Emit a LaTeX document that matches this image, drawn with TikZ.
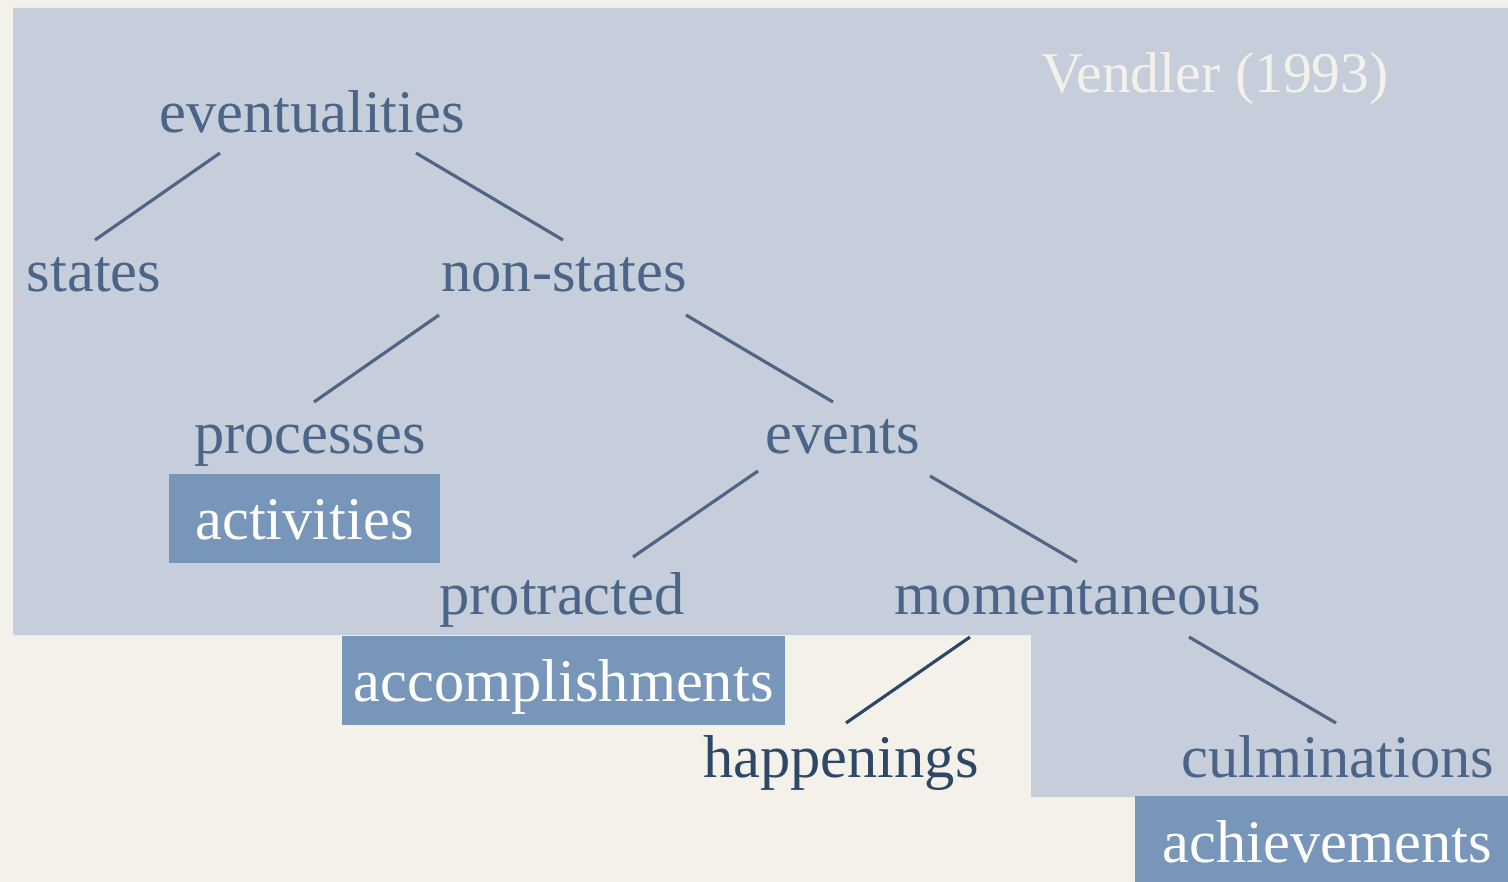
\documentclass[tikz,border=0pt]{standalone}
\usepackage{fontspec}
\setmainfont{Liberation Serif}
\usetikzlibrary{calc}

\definecolor{cream}{HTML}{F4F1EB}
\definecolor{regionblue}{HTML}{C5CEDA}
\definecolor{boxblue}{HTML}{7895BA}
\definecolor{inkblue}{HTML}{4A6587}
\definecolor{inkdark}{HTML}{2F4766}
\definecolor{linecol}{HTML}{4F6585}

\tikzset{
  term/.style={inner sep=0pt, anchor=base, text=inkblue, font=\fontsize{17.2}{20}\selectfont},
  classbox/.style={term, fill=boxblue, text=white, inner xsep=0pt, inner ysep=0pt,
                   text height=0.66cm, text depth=0.23cm},
  edge/.style={draw=linecol, line width=0.9pt}
}

\begin{document}
\begin{tikzpicture}[x=0.01cm, y=-0.01cm]
\useasboundingbox (0,0) rectangle (1508,882);
\fill[cream] (0,0) rectangle (1508,882);
% shaded region
\fill[regionblue] (13,8) -- (1508,8) -- (1508,797) -- (1031,797) -- (1031,635) -- (13,635) -- cycle;

\node[term, text=cream, font=\fontsize{16.4}{19}\selectfont] (vendler) at (1215,93) {Vendler (1993)};

\node[term] (ev) at (312,133) {eventualities};
\node[term] (states) at (94,292) {states};
\node[term] (ns) at (564,292) {non-states};
\node[term] (proc) at (310,453) {processes};
\node[term] (events) at (843,453) {events};
\node[term] (prot) at (562,614) {protracted};
\node[term] (mom) at (1078,614) {momentaneous};
\node[term, text=inkdark] (happ) at (841,777) {happenings};
\node[term] (culm) at (1338,777) {culminations};

% classes
\node[classbox, minimum width=2.71cm] (act) at (304.5,540) {activities};
\node[classbox, minimum width=4.43cm] (acc) at (563.5,702) {accomplishments};
\node[classbox, minimum width=3.84cm] (ach) at (1327,862) {achievements};

\draw[edge] ($(ev.base)+(-92,20)$) -- ($(states.base)+(1,-52)$);
\draw[edge] ($(ev.base)+(104,20)$) -- ($(ns.base)+(-1,-52)$);
\draw[edge] ($(ns.base)+(-125,23)$) -- ($(proc.base)+(4,-51)$);
\draw[edge] ($(ns.base)+(122,23)$) -- ($(events.base)+(-10,-51)$);
\draw[edge] ($(events.base)+(-85,18)$) -- ($(prot.base)+(71,-57)$);
\draw[edge] ($(events.base)+(87,23)$) -- ($(mom.base)+(-1,-52)$);
\draw[edge, draw=inkdark] ($(mom.base)+(-108,23)$) -- ($(happ.base)+(5,-54)$);
\draw[edge] ($(mom.base)+(111,23)$) -- ($(culm.base)+(-2,-54)$);

\end{tikzpicture}
\end{document}
